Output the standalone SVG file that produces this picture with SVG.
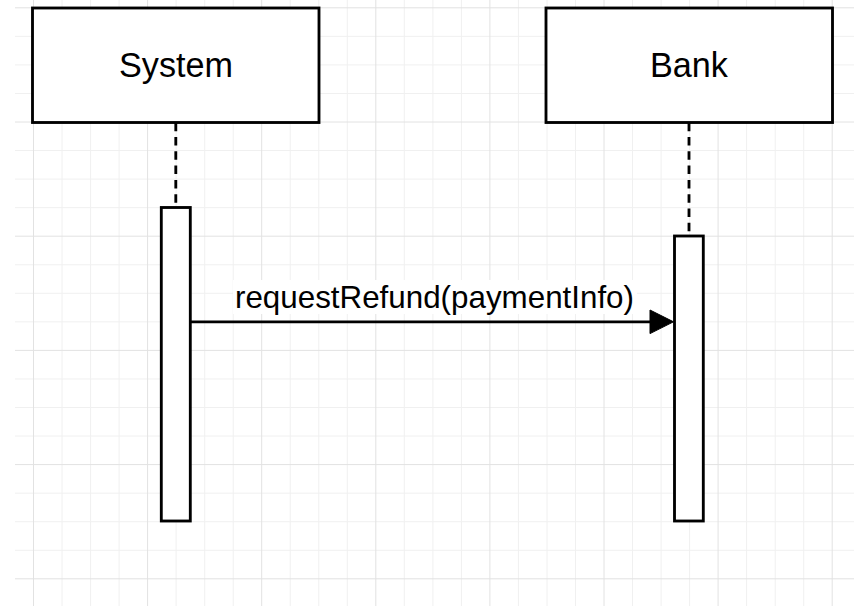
<svg xmlns="http://www.w3.org/2000/svg" width="854" height="606" viewBox="0 0 854 606">
  <style>
    .minor { stroke: #f0f0f0; stroke-width: 1; fill: none; }
    .major { stroke: #e2e2e2; stroke-width: 1; fill: none; }
    .box { fill: #ffffff; stroke: #000000; stroke-width: 2.85; }
    .life { stroke: #000000; stroke-width: 2.85; stroke-dasharray: 8.5 5.8; fill: none; }
    .act { fill: #ffffff; stroke: #000000; stroke-width: 2.85; }
    .name { font-family: "Liberation Sans", Arial, sans-serif; font-size: 34.2px; fill: #000000; text-anchor: middle; }
    .msg { font-family: "Liberation Sans", Arial, sans-serif; font-size: 31.35px; fill: #000000; text-anchor: middle; }
    .line { stroke: #000000; stroke-width: 2.85; fill: none; }
  </style>
  <rect x="0" y="0" width="854" height="606" fill="#ffffff"/>
  <g id="grid">
    <path class="minor" d="M62,0V606 M90.6,0V606 M119.1,0V606 M176.1,0V606 M204.7,0V606 M233.2,0V606 M290.2,0V606 M318.8,0V606 M347.3,0V606 M404.3,0V606 M432.9,0V606 M461.4,0V606 M518.4,0V606 M547,0V606 M575.5,0V606 M632.5,0V606 M661.1,0V606 M689.6,0V606 M746.6,0V606 M775.2,0V606 M803.7,0V606"/>
    <path class="minor" d="M15,36.35H854 M15,64.9H854 M15,93.45H854 M15,150.55H854 M15,179.1H854 M15,207.65H854 M15,264.75H854 M15,293.3H854 M15,321.85H854 M15,378.95H854 M15,407.5H854 M15,436.05H854 M15,493.15H854 M15,521.7H854 M15,550.25H854"/>
    <path class="major" d="M33.5,0V606 M147.6,0V606 M261.7,0V606 M375.8,0V606 M489.9,0V606 M604,0V606 M718.1,0V606 M832.2,0V606"/>
    <path class="major" d="M15,7.8H854 M15,122H854 M15,236.2H854 M15,350.4H854 M15,464.6H854 M15,578.8H854"/>
  </g>
  <g id="connectors">
    <line class="life" x1="175.8" y1="122.7" x2="175.8" y2="207.5"/>
    <line class="life" x1="689" y1="122.7" x2="689" y2="236"/>
  </g>
  <g id="system">
    <rect class="box" x="32.5" y="8" width="286.5" height="114.5"/>
    <text class="name" x="176" y="77">System</text>
  </g>
  <g id="bank">
    <rect class="box" x="546" y="8" width="286.5" height="114.5"/>
    <text class="name" x="689" y="77">Bank</text>
  </g>
  <g id="system-activation">
    <rect class="act" x="161.3" y="207.5" width="29" height="313.5"/>
  </g>
  <g id="bank-activation">
    <rect class="act" x="674.5" y="236" width="28.8" height="285"/>
  </g>
  <g id="message">
    <line class="line" x1="190.3" y1="321.8" x2="652" y2="321.8"/>
    <polygon points="650,310 673.5,321.8 650,333.6" fill="#000000" stroke="#000000" stroke-width="1"/>
    <rect x="233" y="280" width="404" height="34" fill="#ffffff"/>
    <text class="msg" x="434.5" y="307.5">requestRefund(paymentInfo)</text>
  </g>
</svg>
